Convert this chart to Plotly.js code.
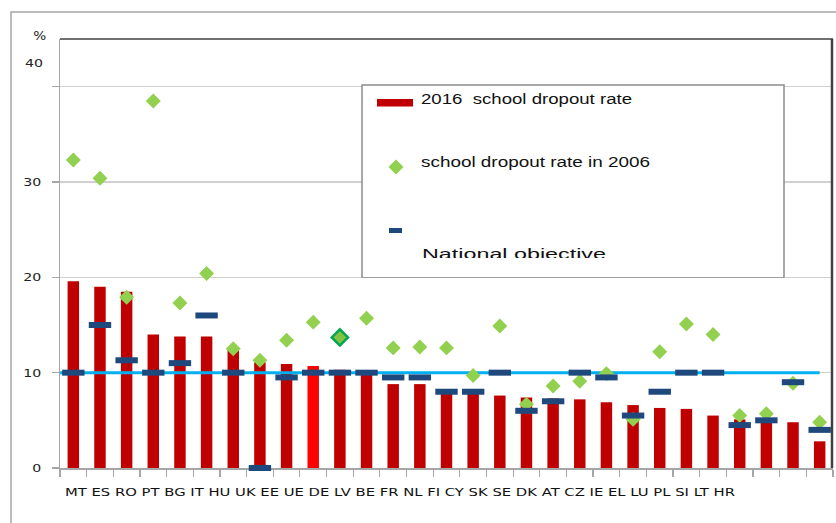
<!DOCTYPE html>
<html><head><meta charset="utf-8">
<script src="https://cdn.plot.ly/plotly-3.0.1.min.js"></script>
<style>html,body{margin:0;padding:0;background:#fff}</style>
</head><body><div id="chart" style="width:836px;height:523px"></div>
<script>
// ---- data ----
const countries = ['MT','ES','RO','PT','BG','IT','HU','UK','EE','UE','DE','LV','BE','FR','NL','FI','CY','SK','SE','DK','AT','CZ','IE','EL','LU','PL','SI','LT','HR'];
const rate2016 = [19.6,19.0,18.5,14.0,13.8,13.8,12.4,11.1,10.9,10.7,10.3,10.0,8.8,8.8,7.9,7.9,7.6,7.4,7.3,7.2,6.9,6.6,6.3,6.2,5.5,5.1,4.9,4.8,2.8];
const rate2006 = [32.3,30.4,17.9,38.5,17.3,20.4,12.5,11.3,13.4,15.3,13.7,15.7,12.6,12.7,12.6,9.7,14.9,6.7,8.6,9.1,9.9,5.1,12.2,15.1,14.0,5.5,5.7,8.9,4.8];
const nationalTarget = [10,15,11.3,10,11,16,10,0,9.5,10,10,10,9.5,9.5,8,8,10,6,7,10,9.5,5.5,8,10,10,4.5,5,9,4];
const euTarget = 10;
const euCode = 'UE';
const highlightCode = 'DE';
const legendLabels = ['2016  school dropout rate','school dropout rate in 2006','National objective'];
const yTickVals = [0,10,20,30,40];
const yTickText = ['0','10','20','30','40'];
const yUnit = '%';

// ---- layout helpers ----
const W = 836, H = 523, M = {l:60, r:3, t:39, b:55};
const PW = W - M.l - M.r, PH = H - M.t - M.b;
const px = x => (x - M.l) / PW;
const py = y => (H - M.b - y) / PH;
const idx = countries.map((_, i) => i);
const n = countries.length;

const FONT = 'DejaVu Sans, Verdana, sans-serif';
const LFONT = 'Liberation Sans, Arial, sans-serif';

const traces = [
  {type:'bar', x: idx, y: rate2016, width: 0.43,
   marker:{color: countries.map(c => c === euCode ? '#FF0000' : '#C00000'), line:{width:0}},
   hoverinfo:'y', showlegend:false},
  {type:'scatter', mode:'lines', x:[-0.5, n-1], y:[euTarget, euTarget],
   line:{color:'#00B0F0', width:3}, hoverinfo:'skip', showlegend:false},
  {type:'scatter', mode:'markers', x: idx, y: rate2006, cliponaxis:false,
   marker:{symbol:'diamond', opacity:1,
     size: countries.map(c => c === highlightCode ? 12.5 : 11.5),
     color: countries.map(c => c === highlightCode ? '#84C243' : '#92D050'),
     line:{width: countries.map(c => c === highlightCode ? 2.5 : 0), color:'#00A651'}},
   showlegend:false},
  {type:'scatter', mode:'markers', x: idx, y: nationalTarget, cliponaxis:false,
   marker:{symbol:'line-ew', size:16, opacity:1, color:'#1F497D', line:{width:6, color:'#1F497D'}},
   showlegend:false}
];

const stretch = {}; // annotation index -> textLength
const annotations = [];
function addAnn(a, len) {
  if (len) stretch[annotations.length] = len;
  annotations.push(Object.assign({xref:'paper', yref:'paper', showarrow:false}, a));
}
addAnn({text: yUnit, x: px(39), y: py(36), xanchor:'center', yanchor:'middle',
        font:{family:FONT, size:12, color:'#222'}}, 13);
addAnn({text: yTickText[yTickText.length-1], x: px(34), y: py(63), xanchor:'center', yanchor:'middle',
        font:{family:FONT, size:11, color:'#222'}}, 18);
addAnn({text: countries.join(' '), x: px(63), y: py(493), xanchor:'left', yanchor:'middle', align:'left',
        font:{family:FONT, size:11, color:'#111'}}, 670);
addAnn({text: legendLabels[0], x: px(419), y: py(98.5), xanchor:'left', yanchor:'middle', align:'left',
        font:{family:LFONT, size:14, color:'#111'}}, 211);
addAnn({text: legendLabels[1], x: px(419), y: py(162), xanchor:'left', yanchor:'middle', align:'left',
        font:{family:LFONT, size:14, color:'#111'}}, 229);
addAnn({text: legendLabels[2], x: px(420), y: py(254), xanchor:'left', yanchor:'middle', align:'left',
        font:{family:LFONT, size:14, color:'#111'}}, 184);
// mask: bottom part of last legend line is hidden in the original
addAnn({text:' ', x: px(363), y: py(257.5), xanchor:'left', yanchor:'top', width:420, height:19,
        bgcolor:'#ffffff', borderpad:0, borderwidth:0, font:{size:4}});

const shapes = [
  {type:'rect', xref:'paper', yref:'paper', x0:px(11), y0:py(12), x1:px(1000), y1:py(900),
   line:{color:'#A6A6A6', width:1.5}, fillcolor:'rgba(0,0,0,0)', layer:'below'},
  {type:'line', xref:'paper', yref:'paper', x0:0, x1:1, y0:1, y1:1, line:{color:'#404040', width:1.5}},
  {type:'line', xref:'paper', yref:'paper', x0:px(832), x1:px(832), y0:0, y1:1, line:{color:'#404040', width:2.5}},
  {type:'rect', xref:'paper', yref:'paper', x0:px(362), y0:py(85), x1:px(784), y1:py(277),
   fillcolor:'#ffffff', line:{color:'#8C8C8C', width:1.5}, layer:'above'},
  {type:'rect', xref:'paper', yref:'paper', x0:px(377), y0:py(99), x1:px(413), y1:py(106.5),
   fillcolor:'#C00000', line:{width:0}, layer:'above'},
  {type:'path', xref:'paper', yref:'paper',
   path:`M${px(388.5)},${py(167)} L${px(396)},${py(159.5)} L${px(403.5)},${py(167)} L${px(396)},${py(174.5)} Z`,
   fillcolor:'#92D050', line:{width:0}, layer:'above'},
  {type:'rect', xref:'paper', yref:'paper', x0:px(389), y0:py(228), x1:px(402), y1:py(233),
   fillcolor:'#1F497D', line:{width:0}, layer:'above'}
];

const boundaries = [];
for (let i = 0; i <= n; i++) boundaries.push(i - 0.5);

const layout = {
  width: W, height: H, margin: M, paper_bgcolor:'#fff', plot_bgcolor:'#fff',
  showlegend:false, bargap:0.57,
  xaxis:{range:[-0.5, n-0.5], tickvals: boundaries, ticktext: boundaries.map(() => ''),
    ticks:'outside', ticklen:7, tickcolor:'#A6A6A6', tickwidth:1.2, showgrid:false, zeroline:false,
    showline:true, linecolor:'#A6A6A6', linewidth:1.5, showticklabels:false, fixedrange:true,
    layer:'below traces'},
  yaxis:{range:[0,45], tickvals: yTickVals, ticktext: yTickText.map((t,i) => i === yTickText.length-1 ? '' : t),
    ticks:'outside', ticklen:7, tickcolor:'#A6A6A6', tickwidth:1.2,
    showgrid:true, gridcolor:'#D0D0D0', gridwidth:1.2, zeroline:false,
    showline:true, linecolor:'#A6A6A6', linewidth:1.5, ticklabelstandoff:8,
    tickfont:{family:FONT, size:11, color:'#222'}, fixedrange:true, layer:'below traces'},
  annotations, shapes
};

Plotly.newPlot('chart', traces, layout, {displayModeBar:false, staticPlot:true}).then(() => {
  document.querySelectorAll('#chart g.annotation').forEach(g => {
    const k = g.getAttribute('data-index');
    if (stretch[k]) {
      const t = g.querySelector('text.annotation-text');
      if (t) { t.setAttribute('textLength', stretch[k]); t.setAttribute('lengthAdjust', 'spacingAndGlyphs'); }
    }
  });
  document.querySelectorAll('#chart g.ytick text').forEach(t => {
    const s = t.textContent || '';
    if (s.length) { t.setAttribute('textLength', 9 * s.length); t.setAttribute('lengthAdjust', 'spacingAndGlyphs'); }
  });
});
</script></body></html>
